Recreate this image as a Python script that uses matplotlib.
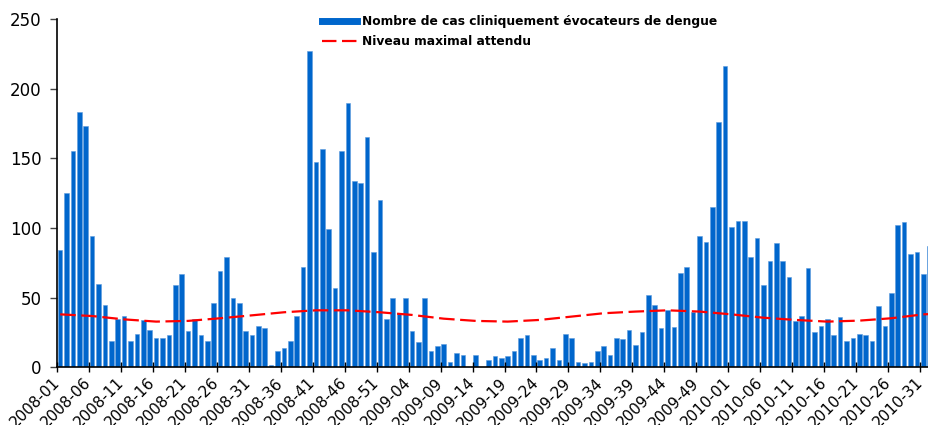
import matplotlib
matplotlib.use("Agg")
import matplotlib.pyplot as plt
from matplotlib.lines import Line2D
from matplotlib.transforms import ScaledTranslation

# weekly counts
cases_2008 = [84, 125, 155, 183, 173, 94, 60, 45, 19, 35,
              37, 19, 24, 34, 27, 21, 21, 23, 59, 67,
              26, 35, 23, 19, 46, 69, 79, 50, 46, 26,
              23, 30, 28, 2, 12, 14, 19, 37, 72, 227,
              147, 157, 99, 57, 155, 190, 134, 132, 165, 83,
              120, 35]
cases_2009 = [50, 39, 50, 26, 18, 50, 12, 15, 17, 4,
              10, 9, 0, 9, 0, 5, 8, 7, 8, 12,
              21, 23, 9, 5, 7, 14, 5, 24, 21, 4,
              3, 4, 12, 15, 9, 21, 20, 27, 16, 25,
              52, 45, 28, 41, 29, 68, 72, 40, 94, 90,
              115, 176, 216]
cases_2010 = [101, 105, 105, 79, 93, 59, 76, 89, 76, 65,
              33, 37, 71, 25, 30, 35, 23, 36, 19, 21,
              24, 23, 19, 44, 30, 53, 102, 104, 81, 83,
              67, 87]

weeks = ([f"2008-{w:02d}" for w in range(1, len(cases_2008) + 1)]
         + [f"2009-{w:02d}" for w in range(1, len(cases_2009) + 1)]
         + [f"2010-{w:02d}" for w in range(1, len(cases_2010) + 1)])
cases = cases_2008 + cases_2009 + cases_2010

# expected maximum level, read at the labelled weeks
line_weeks = ["2008-01", "2008-06", "2008-11", "2008-16", "2008-21", "2008-26",
              "2008-31", "2008-36", "2008-41", "2008-46", "2008-51", "2009-04",
              "2009-09", "2009-14", "2009-19", "2009-24", "2009-29", "2009-34",
              "2009-39", "2009-44", "2009-49", "2010-01", "2010-06", "2010-11",
              "2010-16", "2010-21", "2010-26", "2010-31", "2010-32"]
line_values = [38.0, 36.8, 34.4, 32.8, 33.3, 35.2,
               37.3, 39.5, 40.9, 40.9, 39.5, 37.6,
               34.9, 33.3, 32.8, 34.0, 36.4, 38.8,
               40.0, 40.9, 40.0, 38.0, 35.6, 34.0,
               32.8, 33.5, 35.2, 38.0, 38.2]

bar_label = "Nombre de cas cliniquement évocateurs de dengue"
line_label = "Niveau maximal attendu"

blue = "#0066CC"
red = "#FF0000"

fig = plt.figure(figsize=(9.29, 4.25), dpi=100)
ax = fig.add_axes([57 / 929, 1 - 367.3 / 425, 1 - 57 / 929, (367.3 - 19) / 425])

x = list(range(len(cases)))
ax.bar(x, cases, width=0.72, color=blue, edgecolor="#5E9BDD", linewidth=0.4)

lx = [weeks.index(w) for w in line_weeks]
ax.plot(lx, line_values, color=red, lw=1.6, dashes=(7, 2.5))

ax.set_xlim(-0.5, 135.9)
ax.set_ylim(0, 250)
ax.set_yticks(range(0, 251, 50))

tick_idx = list(range(0, len(weeks), 5))
ax.set_xticks([i - 0.5 for i in tick_idx])
ax.set_xticklabels([weeks[i] for i in tick_idx], rotation=45, ha="right",
                   va="center", rotation_mode="anchor", fontsize=11)
shift = ScaledTranslation(0.04, -0.04, fig.dpi_scale_trans)
for lab in ax.get_xticklabels():
    lab.set_transform(lab.get_transform() + shift)
ax.tick_params(axis="x", direction="inout", length=7, width=1, pad=6)
ax.tick_params(axis="y", direction="out", length=5, width=1, labelsize=12, pad=6,
               color="#444444")

for s in ["top", "right"]:
    ax.spines[s].set_visible(False)
for s in ["left", "bottom"]:
    ax.spines[s].set_linewidth(1.2)

handles = [Line2D([], [], color=blue, lw=5),
           Line2D([], [], color=red, lw=1.6, dashes=(6.5, 2.5))]
fig.legend(handles, [bar_label, line_label], loc="upper left",
           bbox_to_anchor=(322 / 929, 1 - 15 / 425), frameon=False,
           prop={"weight": "bold", "size": 8.8}, handlelength=2.9,
           handletextpad=0.4, borderpad=0, borderaxespad=0, labelspacing=0.6)

fig.savefig("out.png", dpi=100, facecolor="white")
